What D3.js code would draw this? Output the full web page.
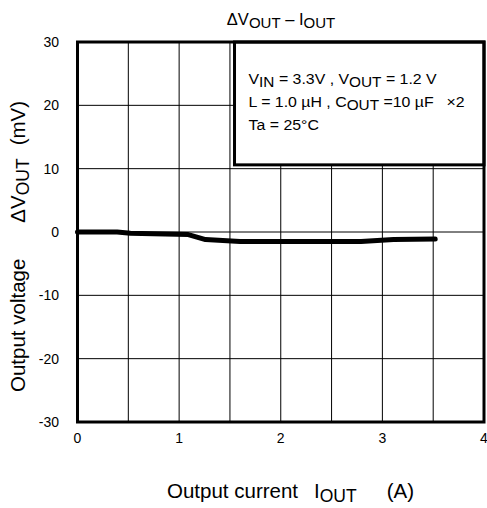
<html>
<script src="https://cdnjs.cloudflare.com/ajax/libs/d3/7.8.5/d3.min.js"></script>
<body style="margin:0;background:white">
<div id="graph"></div>
</body>
<script>
// values
var iout = [0, 0.39, 0.52, 1.09, 1.26, 1.6, 2.79, 3.11, 3.52]
var dvout = [0, 0, -0.2, -0.4, -1.2, -1.5, -1.5, -1.2, -1.1]
var xTicks = [0, 1, 2, 3, 4]
var yTicks = [-30, -20, -10, 0, 10, 20, 30]
var xGrid = [0.5, 1, 1.5, 2, 2.5, 3, 3.5]
var yGrid = [-20, -10, 0, 10, 20]
var legendLines = [
    [["V", 0], ["IN", 1], [" = 3.3V , V", 0], ["OUT", 1], [" = 1.2 V", 0]],
    [["L = 1.0 \u00b5H , C", 0], ["OUT", 1], [" =10 \u00b5F", 0], ["\u00d72", 0, 12]],
    [["Ta = 25\u00b0C", 0]]
]

var W = 487, H = 508
var svg = d3.select("#graph").append("svg").attr("width", W).attr("height", H)
    .style("font-family", "Liberation Sans, Arial, sans-serif")

var X = d3.scaleLinear().domain([0, 4]).range([77.5, 484])
var Y = d3.scaleLinear().domain([-30, 30]).range([422, 42])

// text with lowered subscripts; [text, isSub, dx]
function richText(t, parts, size, subSize, drop) {
    parts.forEach((p, i) => {
        var s = t.append("tspan").text(p[0]).style("font-size", (p[1] ? subSize : size) + "px")
        if (p[2]) s.attr("dx", p[2])
        if (p[1]) s.attr("dy", drop)
        else if (i > 0 && parts[i - 1][1]) s.attr("dy", -drop)
    })
}

// grid
svg.selectAll(".gx").data(xGrid).enter().append("line")
    .attr("x1", d => X(d)).attr("x2", d => X(d)).attr("y1", Y(30)).attr("y2", Y(-30))
    .style("stroke", "black").style("stroke-width", 1)
svg.selectAll(".gy").data(yGrid).enter().append("line")
    .attr("x1", X(0)).attr("x2", X(4)).attr("y1", d => Y(d)).attr("y2", d => Y(d))
    .style("stroke", "black").style("stroke-width", 1)

// conditions box
var bx = X(1.545), by = Y(10.6)
svg.append("rect").attr("x", bx).attr("y", Y(30)).attr("width", X(4) - bx).attr("height", by - Y(30))
    .style("fill", "white").style("stroke", "black").style("stroke-width", 3)
legendLines.forEach((parts, i) => {
    var t = svg.append("text")
        .attr("transform", "translate(" + (bx + 14) + "," + (83.5 + i * 23) + ") scale(1.06,1)")
    richText(t, parts, 15, 14.5, 3)
})

// frame
svg.append("rect").attr("x", X(0)).attr("y", Y(30)).attr("width", X(4) - X(0)).attr("height", Y(-30) - Y(30))
    .style("fill", "none").style("stroke", "black").style("stroke-width", 3)

// curve
var pts = iout.map((d, i) => [d, dvout[i]])
svg.append("path").datum(pts)
    .attr("d", d3.line().x(d => X(d[0])).y(d => Y(d[1])))
    .style("fill", "none").style("stroke", "black").style("stroke-width", 5)
    .style("stroke-linecap", "round").style("stroke-linejoin", "round")

// tick labels
svg.selectAll(".tx").data(xTicks).enter().append("text")
    .attr("x", d => X(d)).attr("y", Y(-30) + 21).attr("text-anchor", "middle")
    .style("font-size", "14px").text(d => d)
svg.selectAll(".ty").data(yTicks).enter().append("text")
    .attr("x", 59).attr("y", d => Y(d) + 5).attr("text-anchor", "end")
    .style("font-size", "14px").text(d => d)

// title
var title = svg.append("text").attr("x", 281).attr("y", 25).attr("text-anchor", "middle")
richText(title, [["\u0394V", 0], ["OUT", 1], [" \u2013 I", 0], ["OUT", 1]], 16.5, 15, 3)

// axis labels
var xl = svg.append("text").attr("x", 167).attr("y", 498)
richText(xl, [["Output current", 0], ["I", 0, 16], ["OUT", 1], ["(A)", 0, 30]], 20.5, 17.5, 4)

var yl = svg.append("text").attr("transform", "translate(25,392) rotate(-90)")
richText(yl, [["Output voltage", 0], ["\u0394V", 0, 36], ["OUT", 1], ["(mV)", 0, 13]], 20.5, 17.5, 4)
</script>
</html>
